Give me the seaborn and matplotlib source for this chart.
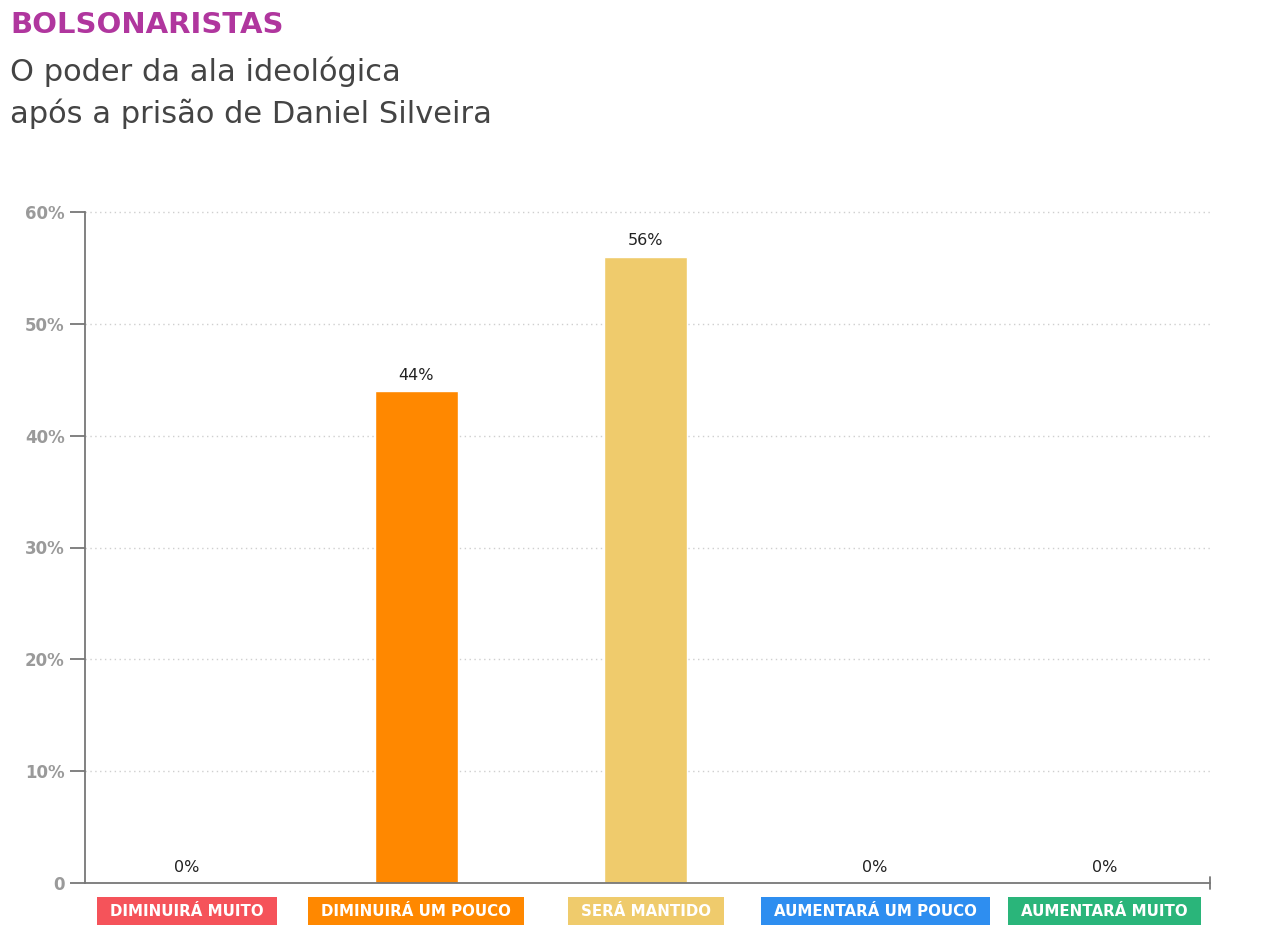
import matplotlib
matplotlib.use("Agg")
import matplotlib.pyplot as plt
import matplotlib.transforms as mtransforms
from matplotlib.patches import Rectangle
import seaborn as sns
import pandas as pd

# data
categories = ["DIMINUIRÁ MUITO", "DIMINUIRÁ UM POUCO", "SERÁ MANTIDO",
              "AUMENTARÁ UM POUCO", "AUMENTARÁ MUITO"]
values = [0, 44, 56, 0, 0]
colors = ["#F5535A", "#FF8800", "#EFCB6C", "#2E8EF0", "#2AB57A"]
yticks = [0, 10, 20, 30, 40, 50, 60]
ytick_labels = ["0", "10%", "20%", "30%", "40%", "50%", "60%"]

df = pd.DataFrame({"cat": categories, "val": values})

sns.set_style("white")
plt.rcParams["font.family"] = ["DejaVu Sans"]

W, H = 1264, 952
fig = plt.figure(figsize=(W / 100, H / 100), dpi=100)
ax = fig.add_axes([85 / W, 1 - 883 / H, (1210 - 85) / W, (883 - 212) / H])

sns.barplot(data=df, x="cat", y="val", hue="cat", palette=colors, width=0.36,
            legend=False, ax=ax, saturation=1)

ax.set_xlim(-0.445, 4.46)
ax.set_ylim(0, 60)
ax.set_yticks(yticks)
ax.set_yticklabels(ytick_labels, color="#9a9a9a", fontsize=12, fontweight="bold")
ax.tick_params(axis="y", length=11, width=1.3, color="#777777", pad=3.5, left=True)
ax.set_xticks([])
ax.set_xlabel("")
ax.set_ylabel("")

for y in yticks[1:]:
    ax.plot([-0.445, 4.47], [y, y], color="#cfcfcf", lw=1, ls=(0, (1, 2.5)),
            zorder=0, clip_on=False)

for s in ["top", "right"]:
    ax.spines[s].set_visible(False)
for s in ["left", "bottom"]:
    ax.spines[s].set_color("#777777")
    ax.spines[s].set_linewidth(1.3)
# small end tick on x axis
ax.plot([4.46, 4.46], [-0.5, 0.5], color="#777777", lw=1.3, clip_on=False)

# value labels
for i, v in enumerate(values):
    ax.annotate(f"{v}%", (i, v), xytext=(0, 6), textcoords="offset points",
                ha="center", va="bottom", fontsize=11.5, color="#222222")

# category label boxes
trans = mtransforms.blended_transform_factory(ax.transData, fig.transFigure)
labels = []
for i, c in enumerate(categories):
    t = fig.text(i, 1 - 911 / H, c, transform=trans, ha="center", va="center",
                 fontsize=10.8, fontweight="bold", color="white", zorder=5)
    labels.append(t)

fig.text(10 / W, 1 - 25 / H, "BOLSONARISTAS", color="#B0369E",
         fontsize=21, fontweight="bold", va="center", ha="left")
fig.text(10 / W, 1 - 72 / H, "O poder da ala ideológica", color="#444444",
         fontsize=22, va="center", ha="left")
fig.text(10 / W, 1 - 114 / H, "após a prisão de Daniel Silveira", color="#444444",
         fontsize=22, va="center", ha="left")

fig.canvas.draw()
renderer = fig.canvas.get_renderer()
for t, col in zip(labels, colors):
    bb = t.get_window_extent(renderer)
    x0 = bb.x0 - 13
    fig.add_artist(Rectangle((x0 / W, 1 - 925 / H), (bb.width + 26) / W, 28 / H,
                             transform=fig.transFigure, fc=col, ec="none", zorder=1))

fig.savefig("out.png", dpi=100)
